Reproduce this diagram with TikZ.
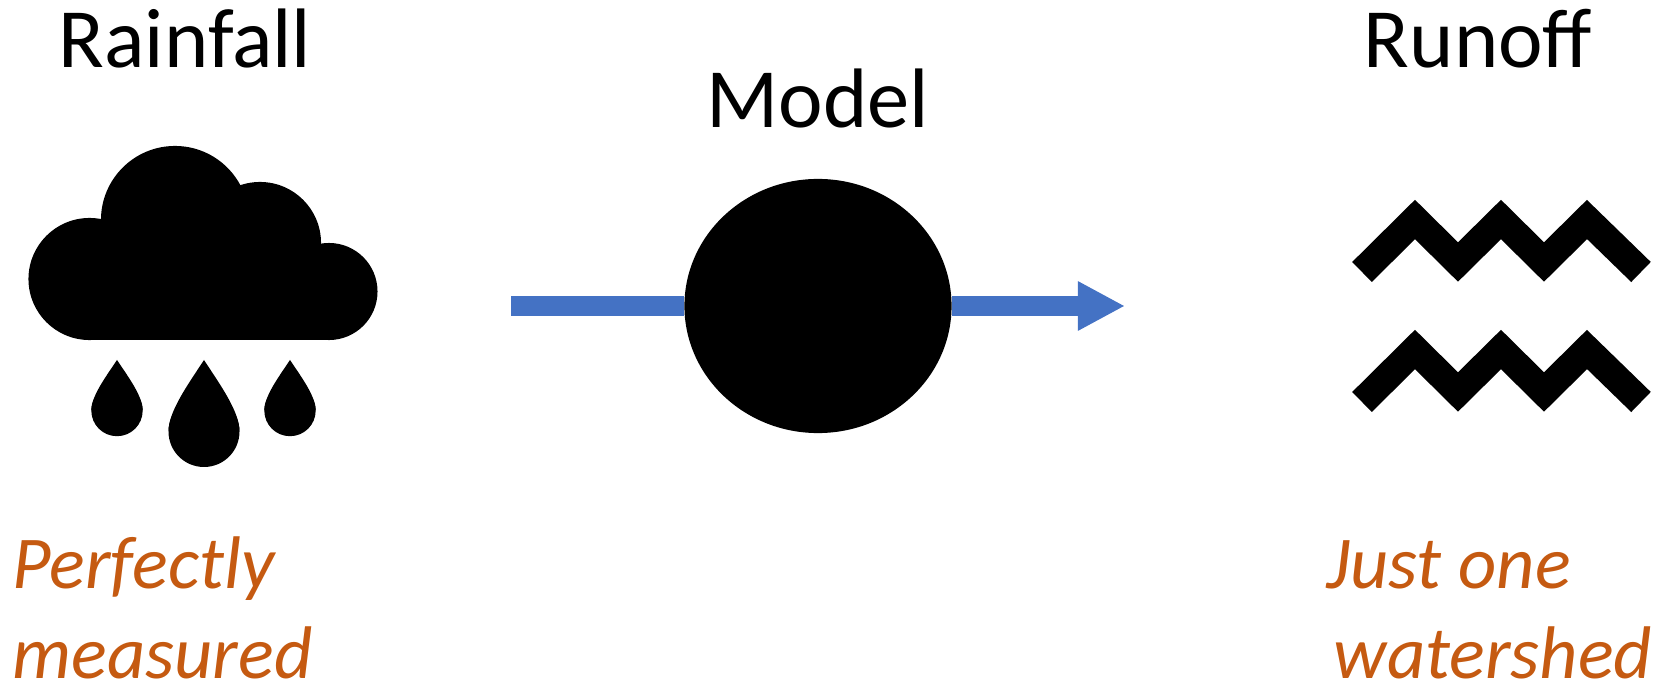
\documentclass[tikz,border=0pt]{standalone}
\usepackage{fontspec}
\setmainfont{Carlito}
\definecolor{flowblue}{HTML}{4472C4}
\definecolor{noteorange}{HTML}{C55A11}
\usetikzlibrary{
    arrows.meta,
    shapes.geometric,
    positioning
}
\tikzstyle{title} = [
    inner sep=0pt,
    anchor=base,
    font=\fontsize{24}{28}\selectfont
]
\tikzstyle{note} = [
    inner sep=0pt,
    anchor=base west,
    align=left,
    text=noteorange,
    font=\fontsize{21.2}{25.6}\selectfont\itshape
]
\tikzstyle{modelblob} = [
    ellipse,
    inner sep=0pt,
    fill=black,
    minimum width=2.67cm,
    minimum height=2.54cm
]
\tikzstyle{arrow} = [
    line width=0.2cm,
    draw=flowblue
]
\tikzstyle{wave} = [
    line width=0.28cm,
    draw=black,
    miter limit=10
]

\begin{document}
\begin{tikzpicture}[x=0.01cm, y=-0.01cm]
        \useasboundingbox (0,0) rectangle (1653,685);

        % Model and arrow
        \coordinate (flow_in) at (511,306);
        \coordinate (flow_out) at (1125,306);
        \node[modelblob] (model) at (818,306) {};
        \draw[arrow] (flow_in) -- (model);
        \draw[arrow, -{Triangle[length=0.47cm, width=0.46cm]}] (model) -- (flow_out);

        % Cloud
        \fill (89.5,279) circle (0.61cm);
        \fill (175,220) circle (0.74cm);
        \fill (260,243) circle (0.61cm);
        \fill (329,291.5) circle (0.485cm);
        \fill (89.5,279) -- (175,220) -- (260,243) -- (329,291.5) -- (329,340) -- (89.5,340) -- cycle;

        % Drops
        \foreach \dropx/\dropy/\dropr in {117/410.5/25.7, 204/431.5/35.5, 290/410.5/25.7} {
            \fill (\dropx,360)
                .. controls ({\dropx-0.46*\dropr},{360+0.35*(\dropy-360)}) and ({\dropx-\dropr},{360+0.72*(\dropy-360)}) .. ({\dropx-\dropr},\dropy)
                -- ({\dropx+\dropr},\dropy)
                .. controls ({\dropx+\dropr},{360+0.72*(\dropy-360)}) and ({\dropx+0.46*\dropr},{360+0.35*(\dropy-360)}) .. (\dropx,360) -- cycle;
            \fill (\dropx,\dropy) circle (\dropr*0.01cm);
        }

        % Water
        \foreach \waveshift in {0,130} {
            \draw[wave, shift={(0,\waveshift)}] (1362,272) -- (1415,219.5) -- (1458,262) -- (1501,219.5) -- (1544,262) -- (1587,219.5) -- (1641,272);
        }

        % Labels
        \node[title] (rain_label) at (185,68) {Rainfall};
        \node[title, above=0.49cm of model] (model_label) {Model};
        \node[title] (runoff_label) at (1478,68) {Runoff};
        \node[note] (rain_note) at (12,679) {Perfectly\\measured};
        \node[note] (runoff_note) at (1333,679) {\hspace*{-0.07cm}Just one\\watershed};
\end{tikzpicture}
\end{document}
